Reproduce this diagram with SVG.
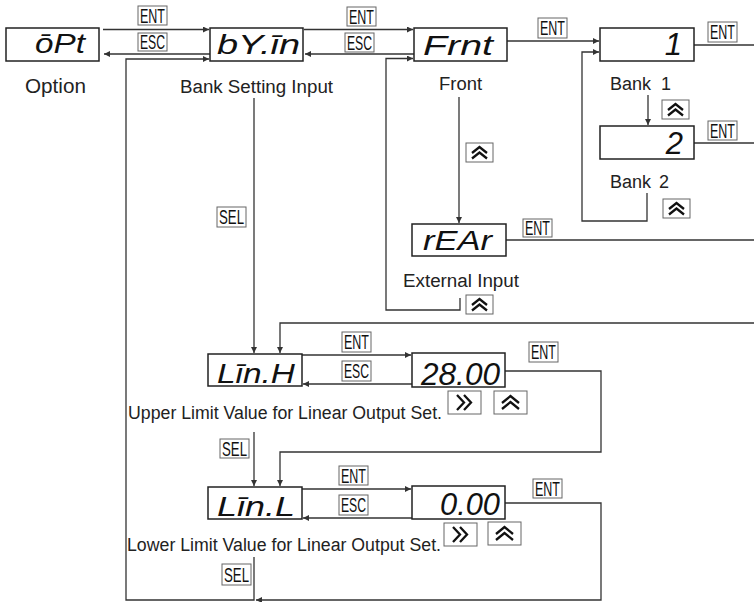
<svg xmlns="http://www.w3.org/2000/svg" width="754" height="602" viewBox="0 0 754 602">
<style>
.bg{fill:#fff}
.disp{fill:#fff;stroke:#222;stroke-width:1.5}
.seg{font-family:"Liberation Sans",Arial,sans-serif;font-style:italic;font-size:28px;fill:#111}
.dig{font-family:"Liberation Sans",Arial,sans-serif;font-style:italic;font-size:31px;fill:#111}
.lbl{font-family:"Liberation Sans",Arial,sans-serif;font-size:18px;fill:#222}
.key{fill:#fff;stroke:#666;stroke-width:1}
.kt{font-family:"Liberation Sans",Arial,sans-serif;font-size:21px;fill:#111;text-anchor:middle}
.ln{fill:none;stroke:#333;stroke-width:1.3}
.arr{fill:none;stroke:#333;stroke-width:1.3;marker-end:url(#ah)}
.chev{fill:none;stroke:#111;stroke-width:2.3;stroke-linejoin:miter}
</style>
<defs>
<marker id="ah" markerUnits="userSpaceOnUse" markerWidth="7" markerHeight="6" refX="6" refY="3" orient="auto">
<path d="M0,0 L6,3 L0,6 z" fill="#333"/>
</marker>
<g id="up">
<rect class="key" x="0" y="0" width="27" height="19"/>
<polyline class="chev" points="6,10 13.5,4 21,10"/>
<polyline class="chev" points="6,15.5 13.5,9.5 21,15.5"/>
</g>
<g id="upw">
<rect class="key" x="0" y="0" width="33" height="23"/>
<polyline class="chev" points="8,12 16.5,5 25,12"/>
<polyline class="chev" points="8,18 16.5,11 25,18"/>
</g>
<g id="rt">
<rect class="key" x="0" y="0" width="33" height="23"/>
<polyline class="chev" points="9,4 16,11.5 9,19"/>
<polyline class="chev" points="16,4 23,11.5 16,19"/>
</g>
</defs>
<rect class="bg" x="0" y="0" width="754" height="602"/>

<g id="connectors">
<line class="arr" x1="103" y1="29.5" x2="209" y2="29.5"/>
<line class="arr" x1="210" y1="54" x2="104" y2="54"/>
<line class="arr" x1="304" y1="29.5" x2="413" y2="29.5"/>
<line class="arr" x1="414" y1="54" x2="305" y2="54"/>
<line class="arr" x1="507" y1="41" x2="599" y2="41"/>
<line class="ln" x1="694" y1="45" x2="754" y2="45"/>
<line class="arr" x1="648" y1="95" x2="648" y2="125"/>
<line class="ln" x1="694" y1="143" x2="754" y2="143"/>
<polyline class="arr" points="647,193 647,221 582,221 582,52 599,52"/>
<line class="arr" x1="459" y1="97" x2="459" y2="223"/>
<line class="ln" x1="506" y1="240" x2="754" y2="240"/>
<polyline class="arr" points="460,298 460,310 386,310 386,58.5 413,58.5"/>
<polyline class="arr" points="254,557 254,600 126,600 126,59 209,59"/>
<line class="arr" x1="254" y1="98" x2="254" y2="353"/>
<polyline class="arr" points="754,323 280,323 280,353"/>
<line class="arr" x1="302" y1="355" x2="411" y2="355"/>
<line class="arr" x1="412" y1="384" x2="303" y2="384"/>
<polyline class="arr" points="505,371 601,371 601,452 280,452 280,486"/>
<line class="arr" x1="254" y1="432" x2="254" y2="486"/>
<line class="arr" x1="302" y1="489" x2="411" y2="489"/>
<line class="arr" x1="412" y1="518" x2="303" y2="518"/>
<polyline class="arr" points="505,503 601,503 601,600 256,600"/>
</g>

<g id="keys">
<rect class="key" x="138" y="6" width="29" height="19"/><text class="kt" x="152.5" y="22.5" textLength="25" lengthAdjust="spacingAndGlyphs">ENT</text>
<rect class="key" x="138" y="33" width="29" height="18"/><text class="kt" x="152.5" y="49" textLength="25" lengthAdjust="spacingAndGlyphs">ESC</text>
<rect class="key" x="347" y="7" width="29" height="19"/><text class="kt" x="361.5" y="23.5" textLength="25" lengthAdjust="spacingAndGlyphs">ENT</text>
<rect class="key" x="345" y="33" width="29" height="19"/><text class="kt" x="359.5" y="49.5" textLength="25" lengthAdjust="spacingAndGlyphs">ESC</text>
<rect class="key" x="538" y="18" width="29" height="20"/><text class="kt" x="552.5" y="35" textLength="25" lengthAdjust="spacingAndGlyphs">ENT</text>
<rect class="key" x="708" y="22" width="29" height="20"/><text class="kt" x="722.5" y="39" textLength="25" lengthAdjust="spacingAndGlyphs">ENT</text>
<rect class="key" x="708" y="121" width="29" height="19"/><text class="kt" x="722.5" y="137.5" textLength="25" lengthAdjust="spacingAndGlyphs">ENT</text>
<rect class="key" x="523" y="219" width="29" height="18"/><text class="kt" x="537.5" y="235" textLength="25" lengthAdjust="spacingAndGlyphs">ENT</text>
<rect class="key" x="217" y="207" width="29" height="20"/><text class="kt" x="231.5" y="224" textLength="25" lengthAdjust="spacingAndGlyphs">SEL</text>
<rect class="key" x="342" y="332" width="29" height="20"/><text class="kt" x="356.5" y="349" textLength="25" lengthAdjust="spacingAndGlyphs">ENT</text>
<rect class="key" x="342" y="361" width="29" height="20"/><text class="kt" x="356.5" y="378" textLength="25" lengthAdjust="spacingAndGlyphs">ESC</text>
<rect class="key" x="529" y="342" width="29" height="20"/><text class="kt" x="543.5" y="359" textLength="25" lengthAdjust="spacingAndGlyphs">ENT</text>
<rect class="key" x="220" y="439" width="29" height="19"/><text class="kt" x="234.5" y="455.5" textLength="25" lengthAdjust="spacingAndGlyphs">SEL</text>
<rect class="key" x="339" y="466" width="29" height="19"/><text class="kt" x="353.5" y="482.5" textLength="25" lengthAdjust="spacingAndGlyphs">ENT</text>
<rect class="key" x="339" y="495" width="29" height="20"/><text class="kt" x="353.5" y="512" textLength="25" lengthAdjust="spacingAndGlyphs">ESC</text>
<rect class="key" x="533" y="479" width="29" height="19"/><text class="kt" x="547.5" y="495.5" textLength="25" lengthAdjust="spacingAndGlyphs">ENT</text>
<rect class="key" x="222" y="564" width="29" height="21"/><text class="kt" x="236.5" y="581.5" textLength="25" lengthAdjust="spacingAndGlyphs">SEL</text>
<use href="#up" x="662" y="100"/>
<use href="#up" x="466" y="143"/>
<use href="#up" x="663" y="199"/>
<use href="#up" x="466" y="295"/>
<use href="#rt" x="448" y="391"/>
<use href="#upw" x="494" y="391"/>
<use href="#rt" x="444" y="523"/>
<use href="#upw" x="488" y="522"/>
</g>

<g id="option">
<rect class="disp" x="6" y="28" width="93" height="33"/>
<text class="seg" x="35" y="53" textLength="50" lengthAdjust="spacingAndGlyphs">ōPt</text>
<text class="lbl" x="25" y="93" style="font-size:20.5px" textLength="61" lengthAdjust="spacingAndGlyphs">Option</text>
</g>
<g id="bank-input">
<rect class="disp" x="210" y="28" width="93" height="33"/>
<text class="seg" x="217" y="54" textLength="83" lengthAdjust="spacingAndGlyphs">bY.īn</text>
<text class="lbl" x="180" y="93" textLength="153" lengthAdjust="spacingAndGlyphs">Bank Setting Input</text>
</g>
<g id="front">
<rect class="disp" x="414" y="28" width="93" height="33"/>
<text class="seg" x="423" y="55" textLength="70" lengthAdjust="spacingAndGlyphs">Frnt</text>
<text class="lbl" x="439" y="90" textLength="43" lengthAdjust="spacingAndGlyphs">Front</text>
</g>
<g id="bank1">
<rect class="disp" x="600" y="28" width="94" height="33"/>
<text class="dig" x="682" y="55" text-anchor="end">1</text>
<text class="lbl" x="610" y="90">Bank <tspan x="661">1</tspan></text>
</g>
<g id="bank2">
<rect class="disp" x="600" y="126" width="94" height="33"/>
<text class="dig" x="683" y="154" text-anchor="end">2</text>
<text class="lbl" x="610" y="188">Bank <tspan x="659">2</tspan></text>
</g>
<g id="rear">
<rect class="disp" x="412" y="224" width="94" height="32"/>
<text class="seg" x="423" y="250" textLength="69" lengthAdjust="spacingAndGlyphs">rEAr</text>
<text class="lbl" x="403" y="287" textLength="116" lengthAdjust="spacingAndGlyphs">External Input</text>
</g>
<g id="lin-h">
<rect class="disp" x="208" y="354" width="94" height="32"/>
<text class="seg" x="217" y="383" textLength="78" lengthAdjust="spacingAndGlyphs">Līn.H</text>
<text class="lbl" x="128" y="419" textLength="314" lengthAdjust="spacingAndGlyphs">Upper Limit Value for Linear Output Set.</text>
</g>
<g id="lin-h-value">
<rect class="disp" x="412" y="353" width="93" height="34"/>
<text class="dig" x="421" y="385" textLength="79" lengthAdjust="spacingAndGlyphs">28.00</text>
</g>
<g id="lin-l">
<rect class="disp" x="208" y="487" width="94" height="32"/>
<text class="seg" x="217" y="516" textLength="78" lengthAdjust="spacingAndGlyphs">Līn.L</text>
<text class="lbl" x="127" y="551" textLength="314" lengthAdjust="spacingAndGlyphs">Lower Limit Value for Linear Output Set.</text>
</g>
<g id="lin-l-value">
<rect class="disp" x="412" y="486" width="93" height="33"/>
<text class="dig" x="440" y="515" textLength="60" lengthAdjust="spacingAndGlyphs">0.00</text>
</g>
</svg>
